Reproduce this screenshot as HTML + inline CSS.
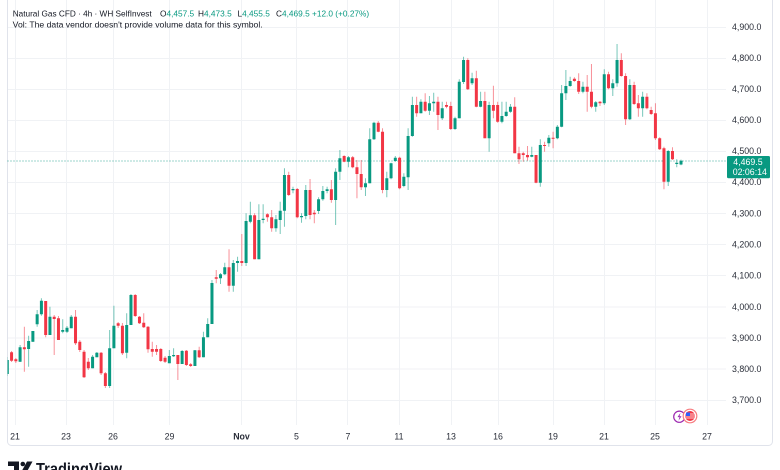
<!DOCTYPE html>
<html><head><meta charset="utf-8"><style>
html,body{margin:0;padding:0;background:#fff;}
svg{display:block;font-family:"Liberation Sans",Arial,sans-serif;}
</style></head><body>
<svg width="780" height="470" viewBox="0 0 780 470" xmlns="http://www.w3.org/2000/svg">
<rect x="0" y="0" width="780" height="470" fill="#ffffff"/>
<defs><clipPath id="pl"><rect x="7.5" y="0" width="719" height="425"/></clipPath></defs>
<!-- grid -->
<g stroke="#f0f2f5" stroke-width="1">
<path d="M7.5 27.5H726M7.5 58.5H726M7.5 89.5H726M7.5 120.5H726M7.5 151.5H726M7.5 182.5H726M7.5 213.5H726M7.5 244.5H726M7.5 275.5H726M7.5 307H726M7.5 338H726M7.5 369H726M7.5 400.5H726"/>
<path d="M15.5 0V425M66.5 0V425M113.5 0V425M169.5 0V425M241.5 0V425M296.5 0V425M347.5 0V425M399.5 0V425M451.5 0V425M498.5 0V425M553.5 0V425M604.5 0V425M655.5 0V425M707.5 0V425"/>
</g>
<!-- frame -->
<rect x="7.5" y="-10" width="765" height="455.5" rx="4" fill="none" stroke="#e0e3eb" stroke-width="1"/>
<!-- last price dotted line -->
<path d="M7.5 161H727" stroke="#089981" stroke-width="1" stroke-dasharray="1 2" opacity="0.8"/>
<g clip-path="url(#pl)" fill="none">
<!-- green wicks -->
<path stroke="#089981" stroke-width="1" opacity="0.55" d="M7.3 357V376M20.09 345V362M28.62 335.7V366.7M32.88 331V342M37.15 310V326.7M41.41 298.3V315.7M49.94 306.7V335M62.73 319.3V333.3M67 326V333M71.26 315V328.3M92.58 355V368.3M96.84 352V357.3M109.64 330V388M113.9 305.7V348.3M126.69 313.3V358.3M130.96 294V325M169.33 350V363.3M173.6 348.3V357M182.12 350V364M194.92 350V366M203.44 331.7V357.3M207.71 318.3V337.3M211.97 280V324M220.5 273V284M224.76 262.7V275M233.29 260V291.7M237.56 256.7V271.7M246.08 213.3V266M250.35 201.7V223.3M258.88 204.3V259.3M263.14 204.3V223.3M275.93 215V231.7M280.2 201.7V234M284.46 168.3V226.7M292.99 186.7V193.3M301.52 213.3V222.7M305.78 185V219.3M318.57 197.3V214M322.84 186V200.7M327.1 186.7V193.3M335.63 168.3V225M339.89 150V180M348.42 156V167.3M365.48 178.3V196M369.74 128.3V183.3M374 121.7V140M386.8 171.7V197.3M391.06 162.7V179.3M395.32 156V161.7M403.85 173.3V187.3M408.12 128.3V190M412.38 96.7V136.7M420.91 99.3V113.3M429.44 96V115M433.7 92.7V111.7M442.23 101.7V120M455.02 116.7V130M459.28 79.3V118.3M463.55 56.7V84M472.08 72.7V85M480.6 91.7V107.3M489.13 101.7V151.7M501.92 101.7V123.3M506.19 101.7V116.7M510.45 104V112.7M531.77 146.7V157.3M540.3 139.3V186.7M548.83 135V146.7M557.36 125V139.3M561.62 85V127.3M565.88 70V100M570.15 76.7V86.7M582.94 81.7V93.3M595.73 101V111.7M604.26 69.3V105M612.79 79.3V96M617.05 44V86.7M629.84 79.3V120M642.64 91.7V116.7M668.22 150V186M676.75 159.3V167.3M681.01 159.6V165.2"/>
<!-- red wicks -->
<path stroke="#f23645" stroke-width="1" opacity="0.55" d="M11.56 351V362M15.83 358V363M24.36 326.7V371.7M45.68 301V337.3M54.2 315V355M58.47 316V340M75.52 310V345M79.79 340V352M84.05 350V378M88.32 358V370M101.11 352V375M105.37 372V388M118.16 322V328M122.43 323V355M135.22 294V317M139.48 316V324M143.75 313.3V328M148.01 326V352.7M152.28 341.7V356.7M156.54 345V355M160.8 348V362M165.07 356V363M177.86 355V380M186.39 350V366M190.65 363V367M199.18 346.7V358M216.24 270V283.3M229.03 249.3V291.7M241.82 234V266M254.61 213.3V259.3M267.4 213.3V221.7M271.67 210V231.7M288.72 171.7V196M297.25 188V218.3M310.04 179V219.3M314.31 210V223.3M331.36 180V202.7M344.16 155.3V162.3M352.68 156V168.3M356.95 160V198.3M361.21 160V190M378.27 121V132.3M382.53 128.3V193.3M399.59 156.7V189.3M416.64 96.7V116.7M425.17 93.3V111.7M437.96 96.7V130M446.49 101.7V108.3M450.76 101.7V130M467.81 58.3V90M476.34 70.7V107.3M484.87 91.7V138.3M493.4 85.7V118.3M497.66 101.7V122.7M514.72 97.3V153.3M518.98 146.7V164M523.24 151.7V161.7M527.51 146V160.7M536.04 155V183.3M544.56 141.7V151.7M553.09 131.7V148.3M574.41 77.3V81.7M578.68 73.3V94M587.2 75V111.7M591.47 64V108.3M600 101V106M608.52 71.7V89.3M621.32 53.3V76.7M625.58 73.3V125M634.11 81.7V105M638.37 95V116.7M646.9 93.3V109.3M651.16 106.7V115M655.43 103.3V140M659.69 137.3V150M663.96 146.7V189.3M672.48 147.3V160"/>
<!-- green bodies -->
<path stroke="#089981" stroke-width="3" d="M7.3 360V374M20.09 347.3V361.7M28.62 341V349M32.88 331V341.7M37.15 314.3V324.3M41.41 300.7V314.3M49.94 316.7V335M62.73 330V331.7M67 327.7V331.7M71.26 316.7V328.3M92.58 356.7V368.3M96.84 352.7V357.3M109.64 348.3V386M113.9 325.7V348.3M126.69 325V352.7M130.96 295V325M169.33 356V363.3M173.6 355V356.2M182.12 351V364M194.92 350.3V366M203.44 337.3V357.3M207.71 324V337.3M211.97 283V324M220.5 274.3V278.3M224.76 267.3V274.3M233.29 263V285.7M237.56 261V263M246.08 221V263M250.35 215.3V221.7M258.88 220V259.3M263.14 218.7V220M275.93 219.3V228.3M280.2 210.7V220M284.46 175V210.7M292.99 189V190.3M301.52 216V217.3M305.78 190V216M318.57 199.3V211M322.84 191V199.3M327.1 189.3V191M335.63 171.7V200M339.89 158.3V171.7M348.42 157.3V161.7M365.48 183.3V187.3M369.74 139.3V183.3M374 122.7V139.3M386.8 178.3V190M391.06 163.3V178.3M395.32 157.7V161M403.85 176.7V186M408.12 136V177.3M412.38 105V136M420.91 101.7V113.3M429.44 103.3V110.7M433.7 101.7V103.3M442.23 108.3V118.3M455.02 118.3V129M459.28 81.7V118.3M463.55 60V82M472.08 78.3V83.3M480.6 101V106.7M489.13 105V138.3M501.92 116V121.7M506.19 111.7V116M510.45 106.7V111.7M531.77 155V156.7M540.3 145V182.7M548.83 137.7V143.3M557.36 126.7V138.3M561.62 93.3V126.7M565.88 86V93.3M570.15 81V86M582.94 86.7V91.7M595.73 102.3V106.7M604.26 74.3V103.3M612.79 83.3V88.3M617.05 60V83.3M629.84 85V119.3M642.64 96.7V108.3M668.22 151V181.7M676.75 162.7V164M681.01 160.8V164.5"/>
<!-- red bodies -->
<path stroke="#f23645" stroke-width="3" d="M11.56 352.3V360.7M15.83 359.3V361.3M24.36 347.3V349.3M45.68 301V335M54.2 316.7V319M58.47 318.3V340M75.52 316.7V343.3M79.79 341.7V350M84.05 351.7V377.3M88.32 361.7V368.3M101.11 352.7V373.3M105.37 373.3V386M118.16 323.3V325.7M122.43 325.7V353.3M135.22 295V316M139.48 316.7V323.3M143.75 322.7V327.3M148.01 326.7V349.3M152.28 349V351.7M156.54 349V351.7M160.8 349V361M165.07 357.7V361.7M177.86 355V364M186.39 350.7V365M190.65 364.3V366M199.18 350.3V357.3M216.24 277.3V278.7M229.03 267.3V285.7M241.82 261V263M254.61 215.3V259.3M267.4 214.3V217.3M271.67 217.3V228.3M288.72 175V195M297.25 189V217.3M310.04 190V215M314.31 212.7V214.3M331.36 189.3V200M344.16 156V161.7M352.68 157.3V167.3M356.95 167.3V174M361.21 174V187.3M378.27 122.7V131.7M382.53 131.7V190M399.59 157.7V188.3M416.64 105V113.3M425.17 101.7V110.7M437.96 101.7V115M446.49 105V106.7M450.76 106V129M467.81 60V89.3M476.34 78.3V106.7M484.87 101V138.3M493.4 105V110.7M497.66 105V121.7M514.72 106.7V153.3M518.98 153.3V159.3M523.24 153.3V155M527.51 155V157.3M536.04 155V182.7M544.56 145V146M553.09 137.7V138.7M574.41 78.7V81M578.68 81V91.7M587.2 86.7V91.7M591.47 91.7V106.7M600 101.7V103.3M608.52 74.3V88.3M621.32 60V76M625.58 76V119.3M634.11 85V104M638.37 103.3V108.3M646.9 96.7V108.3M651.16 110V114M655.43 113.3V138.3M659.69 138.3V149.3M663.96 148.3V181.7M672.48 151V159.3"/>
</g>
<!-- header -->
<g font-size="8.3" fill="#131722">
<text x="12.7" y="16.3" textLength="139" lengthAdjust="spacingAndGlyphs">Natural Gas CFD · 4h · WH SelfInvest</text>
<text x="160" y="16.3">O<tspan fill="#089981">4,457.5</tspan></text>
<text x="198" y="16.3">H<tspan fill="#089981">4,473.5</tspan></text>
<text x="237.5" y="16.3">L<tspan fill="#089981">4,455.5</tspan></text>
<text x="276" y="16.3">C<tspan fill="#089981">4,469.5 +12.0 (+0.27%)</tspan></text>
<text x="12.7" y="27.3" textLength="250" lengthAdjust="spacingAndGlyphs">Vol: The data vendor doesn't provide volume data for this symbol.</text>
</g>
<!-- price axis -->
<g font-size="8.8" fill="#2a2e39">
<text x="732" y="30">4,900.0</text>
<text x="732" y="61">4,800.0</text>
<text x="732" y="92">4,700.0</text>
<text x="732" y="123">4,600.0</text>
<text x="732" y="154">4,500.0</text>
<text x="732" y="185">4,400.0</text>
<text x="732" y="216.5">4,300.0</text>
<text x="732" y="247.5">4,200.0</text>
<text x="732" y="278.5">4,100.0</text>
<text x="732" y="310">4,000.0</text>
<text x="732" y="341">3,900.0</text>
<text x="732" y="372">3,800.0</text>
<text x="732" y="403">3,700.0</text>
</g>
<rect x="727" y="156" width="43" height="22.3" rx="1.5" fill="#089981"/>
<g font-size="8.8" fill="#ffffff">
<text x="733.3" y="164.8">4,469.5</text>
<text x="732.7" y="174.8">02:06:14</text>
</g>
<!-- time axis -->
<g font-size="8.8" fill="#2a2e39" text-anchor="middle">
<text x="15" y="439.3">21</text>
<text x="66" y="439.3">23</text>
<text x="113" y="439.3">26</text>
<text x="169.5" y="439.3">29</text>
<text x="241.5" y="439.3" font-weight="bold">Nov</text>
<text x="296.5" y="439.3">5</text>
<text x="348" y="439.3">7</text>
<text x="399" y="439.3">11</text>
<text x="451" y="439.3">13</text>
<text x="498" y="439.3">16</text>
<text x="553" y="439.3">19</text>
<text x="604" y="439.3">21</text>
<text x="655" y="439.3">25</text>
<text x="707" y="439.3">27</text>
</g>
<!-- event icons -->
<circle cx="679.3" cy="416.7" r="5.6" fill="#ffffff" stroke="#9c27b0" stroke-width="1.2"/>
<path d="M680.5 412.8l-3 4.3h2l-1 3.6 3-4.5h-2z" fill="#9c27b0"/>
<circle cx="690" cy="416" r="6.8" fill="#ffffff" stroke="#f77c80" stroke-width="1.2"/>
<circle cx="690" cy="416" r="5" fill="#f23645"/>
<path d="M685 414h10M685 416h10M685 418h10" stroke="#ffffff" stroke-width="0.8"/>
<path d="M686 412.5h4v3.5h-4z" fill="#2962ff"/>
<!-- logo -->
<g fill="#131722">
<path d="M8 461.5h11v10h-5v-5.5H8z"/>
<circle cx="22.8" cy="464" r="2.3"/>
<path d="M27 461.5h5.5l-5.5 10h-5.5z"/>
<text x="36" y="474.5" font-size="17" font-weight="bold" textLength="86" lengthAdjust="spacingAndGlyphs">TradingView</text>
</g>
</svg>
</body></html>
